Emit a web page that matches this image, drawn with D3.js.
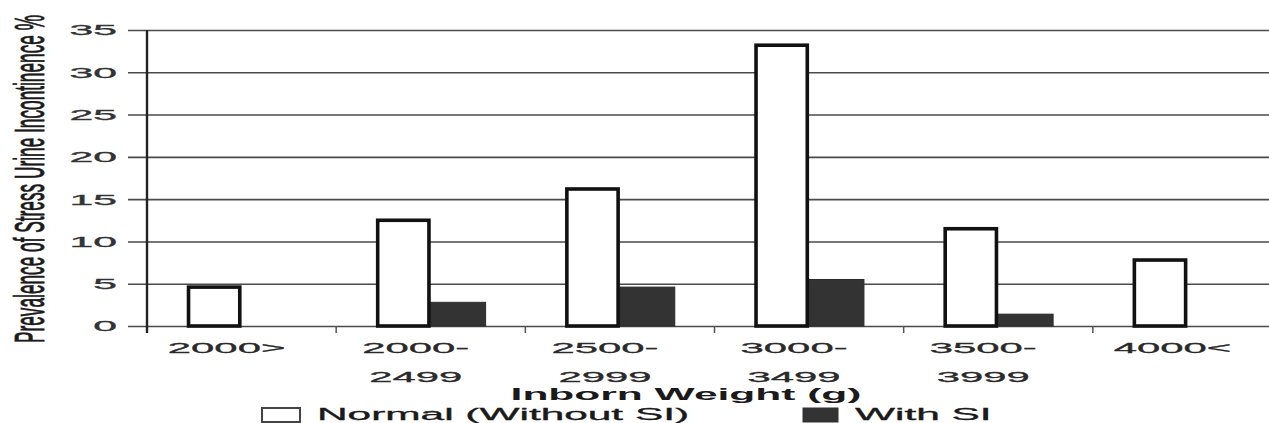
<!DOCTYPE html>
<html>
<head>
<meta charset="utf-8">
<script src="https://cdn.jsdelivr.net/npm/d3@7/dist/d3.min.js"></script>
<style>
  html, body { margin: 0; padding: 0; background: #fff; }
  svg { display: block; font-family: "Liberation Sans", Arial, Helvetica, sans-serif; }
</style>
</head>
<body>
<svg id="chart" width="1269" height="423"></svg>
<script>
// ---- data ----
const categories = ["2000>", "2000-2499", "2500-2999", "3000-3499", "3500-3999", "4000<"];
const labelLine1 = ["2000>", "2000-", "2500-", "3000-", "3500-", "4000<"];
const labelLine2 = ["", "2499", "2999", "3499", "3999", ""];
const seriesNames = ["Normal (Without SI)", "With SI"];
const normalValues = [4.6, 12.5, 16.2, 33.2, 11.5, 7.8];
const withSIValues = [0, 2.8, 4.6, 5.5, 1.4, 0];
const yTicks = [0, 5, 10, 15, 20, 25, 30, 35];
const yTitle = "Prevalence of Stress Urine Incontinence %";
const xTitle = "Inborn Weight (g)";

// ---- layout ----
const W = 1269, H = 423;
const axisX = 147, plotRight = 1282, yTop = 30, yBottom = 326;
const SX = 2.6; // horizontal stretch of the original picture's text
const svg = d3.select("#chart");

const y = d3.scaleLinear().domain([0, 35]).range([yBottom, yTop]);
const x = d3.scaleBand().domain(categories).range([axisX, plotRight])
  .paddingInner(0.42).paddingOuter(0.21);
const xs = d3.scaleBand().domain(seriesNames).range([0, x.bandwidth()]);
const fills = { "Normal (Without SI)": "#ffffff", "With SI": "#333333" };

// ---- y axis with gridlines ----
const yAxis = d3.axisLeft(y).tickValues(yTicks).tickSizeInner(19).tickSizeOuter(0).tickPadding(11);
const gy = svg.append("g").attr("transform", `translate(${axisX},0)`).call(yAxis);
gy.select(".domain").remove();
gy.selectAll(".tick line")
  .attr("x1", -19).attr("x2", W - axisX)
  .attr("stroke", "#4a4a4a").attr("stroke-width", 1.6);
gy.selectAll(".tick text")
  .attr("fill", "#333").attr("stroke", "#333").attr("stroke-width", 0.35)
  .style("font-size", "15.5px")
  .attr("font-family", null)
  .each(function () {
    const t = d3.select(this);
    const tx = +t.attr("x");
    t.attr("x", 0).attr("transform", `translate(${tx},0) scale(2.75,1)`);
  });

// x boundary ticks
const step = x.step();
const boundaries = categories.slice(1).map(c => x(c) - x.paddingInner() * step / 2);
svg.append("g").selectAll("line").data(boundaries).join("line")
  .attr("x1", d => d).attr("x2", d => d)
  .attr("y1", yBottom).attr("y2", yBottom + 7)
  .attr("stroke", "#555").attr("stroke-width", 1.5);

// ---- bars ----
const rows = categories.map((c, i) => ({ cat: c, values: [
  { key: seriesNames[0], v: normalValues[i] },
  { key: seriesNames[1], v: withSIValues[i] }
]}));

const groups = svg.append("g").selectAll("g").data(rows).join("g")
  .attr("transform", d => `translate(${x(d.cat)},0)`);

groups.selectAll("rect.si").data(d => d.values.filter(v => v.key === "With SI" && v.v > 0)).join("rect")
  .attr("class", "si")
  .attr("x", d => xs(d.key))
  .attr("width", xs.bandwidth())
  .attr("y", d => y(d.v))
  .attr("height", d => y(0) - y(d.v))
  .attr("fill", fills["With SI"]).attr("stroke", "#2a2a2a").attr("stroke-width", 1);

groups.selectAll("rect.nm").data(d => d.values.filter(v => v.key === "Normal (Without SI)")).join("rect")
  .attr("class", "nm")
  .attr("x", d => xs(d.key) + 1.8)
  .attr("width", xs.bandwidth() - 3.6)
  .attr("y", d => y(d.v))
  .attr("height", d => y(0) - y(d.v))
  .attr("fill", fills["Normal (Without SI)"]).attr("stroke", "#111").attr("stroke-width", 3.6);

// y axis line
svg.append("line")
  .attr("x1", axisX).attr("x2", axisX)
  .attr("y1", y(35)).attr("y2", yBottom + 7)
  .attr("stroke", "#222").attr("stroke-width", 2.4);

// ---- x tick labels ----
const labOffset = -15;
const xl = svg.append("g").selectAll("g").data(categories).join("g")
  .attr("transform", d => `translate(${x(d) + x.bandwidth() / 2 + labOffset},0)`);
xl.append("text")
  .attr("transform", "translate(0,353) scale(2.7,1)")
  .attr("text-anchor", "middle").attr("fill", "#2a2a2a")
  .attr("stroke", "#2a2a2a").attr("stroke-width", 0.3)
  .style("font-size", "15.5px")
  .text((d, i) => labelLine1[i]);
xl.append("text")
  .attr("transform", "translate(0,382) scale(2.7,1)")
  .attr("text-anchor", "middle").attr("fill", "#2a2a2a")
  .attr("stroke", "#2a2a2a").attr("stroke-width", 0.3)
  .style("font-size", "15.5px")
  .text((d, i) => labelLine2[i]);

// ---- x title ----
svg.append("text")
  .attr("transform", "translate(686,400) scale(2.5,1)")
  .attr("text-anchor", "middle").attr("fill", "#1a1a1a")
  .style("font-size", "17px").style("font-weight", "bold")
  .text(xTitle);

// ---- y title ----
svg.append("text")
  .attr("transform", `translate(44,179) scale(${SX},1) rotate(-90)`)
  .attr("text-anchor", "middle").attr("fill", "#1a1a1a")
  .attr("stroke", "#1a1a1a").attr("stroke-width", 0.35)
  .style("font-size", "16px")
  .attr("textLength", 328).attr("lengthAdjust", "spacingAndGlyphs")
  .text(yTitle);

// ---- legend ----
const legendItems = [
  { name: seriesNames[0], bx: 262, bw: 38, tx: 317 },
  { name: seriesNames[1], bx: 803, bw: 35, tx: 855 }
];
const lg = svg.append("g").selectAll("g").data(legendItems).join("g");
lg.append("rect")
  .attr("x", d => d.bx).attr("y", 408).attr("width", d => d.bw).attr("height", 14)
  .attr("fill", d => fills[d.name])
  .attr("stroke", d => d.name === "With SI" ? "#333" : "#444")
  .attr("stroke-width", d => d.name === "With SI" ? 1 : 2);
lg.append("text")
  .attr("transform", d => `translate(${d.tx},420) scale(2.57,1)`)
  .attr("fill", "#1a1a1a").attr("stroke", "#1a1a1a").attr("stroke-width", 0.3)
  .style("font-size", "16.5px")
  .text(d => d.name);
</script>
</body>
</html>
